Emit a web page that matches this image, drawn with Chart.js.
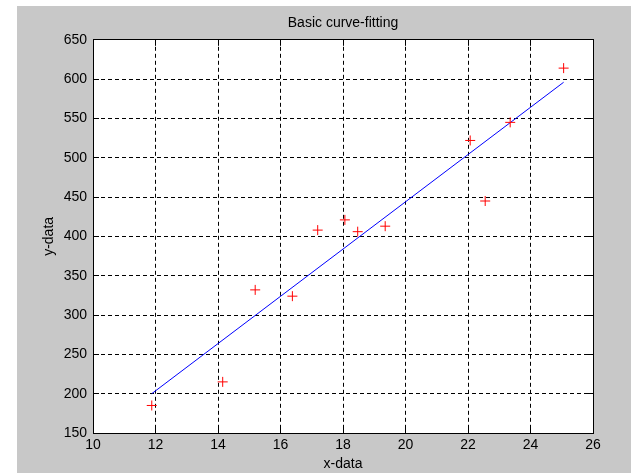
<!DOCTYPE html>
<html>
<head>
<meta charset="utf-8">
<script src="https://cdn.jsdelivr.net/npm/chart.js@4/dist/chart.umd.min.js"></script>
<style>
  html, body { margin: 0; padding: 0; background: #fff; }
  #frame { position: absolute; left: 17px; top: 6px; width: 614px; height: 467px; background: #c8c8c8; }
</style>
</head>
<body>
<div id="frame"><canvas id="fitChart"></canvas></div>
<script>
// measured points (red crosses)
var xData = [11.88, 14.15, 15.19, 16.38, 17.19, 18.06, 18.47, 19.35, 22.07, 22.55, 23.35, 25.06];
var yData = [185, 215, 332, 324, 408, 421, 406, 413, 522, 445, 545, 614];

// fitted line end points
var fitX = [11.88, 25.06];
var fitY = [200, 596];

var xTicks = [10, 12, 14, 16, 18, 20, 22, 24, 26];
var yTicks = [150, 200, 250, 300, 350, 400, 450, 500, 550, 600, 650];

function toPoints(xs, ys) {
    return xs.map(function (x, i) { return { x: x, y: ys[i] }; });
}

var font = { family: 'Liberation Sans, Arial, Helvetica, sans-serif', size: 14 };

Chart.defaults.font.family = font.family;
Chart.defaults.font.size = font.size;
Chart.defaults.color = '#000';

var fitChart = new Chart(document.getElementById('fitChart').getContext('2d'), {
    type: 'scatter',
    data: {
        datasets: [{
            label: 'data',
            data: toPoints(xData, yData),
            pointStyle: 'cross',
            pointRadius: 5,
            pointBorderWidth: 1,
            borderColor: '#ff0000',
            backgroundColor: '#ff0000',
            showLine: false
        }, {
            label: 'fit',
            data: toPoints(fitX, fitY),
            showLine: true,
            borderColor: '#0000ff',
            borderWidth: 1,
            pointRadius: 0,
            fill: false
        }]
    },
    options: {
        responsive: true,
        maintainAspectRatio: false,
        animation: false,
        layout: { padding: { left: 0, top: 0, right: 38, bottom: 0 } },
        plugins: {
            legend: { display: false },
            tooltip: { enabled: false },
            title: {
                display: true,
                text: 'Basic curve-fitting',
                fullSize: false,
                color: '#000',
                font: { size: 14, weight: 'normal' },
                padding: { top: 9, bottom: 8 }
            }
        },
        scales: {
            x: {
                type: 'linear',
                position: 'bottom',
                min: 10,
                max: 26,
                afterBuildTicks: function (scale) {
                    scale.ticks = xTicks.map(function (v) { return { value: v }; });
                },
                afterFit: function (scale) { scale.height = 40; },
                ticks: { padding: 10, color: '#000' },
                grid: {
                    color: '#000',
                    lineWidth: 1,
                    drawTicks: true,
                    tickLength: -6,
                    tickColor: '#000'
                },
                border: { display: true, color: '#000', width: 1, dash: [4, 3] },
                title: { display: true, text: 'x-data', color: '#000', padding: { top: 0, bottom: 0 } }
            },
            y: {
                type: 'linear',
                position: 'left',
                min: 150,
                max: 650,
                afterBuildTicks: function (scale) {
                    scale.ticks = yTicks.map(function (v) { return { value: v }; });
                },
                afterFit: function (scale) { scale.width = 76; },
                ticks: { padding: 12, color: '#000' },
                grid: {
                    color: '#000',
                    lineWidth: 1,
                    drawTicks: true,
                    tickLength: -6,
                    tickColor: '#000'
                },
                border: { display: true, color: '#000', width: 1, dash: [4, 3] },
                title: { display: true, text: 'y-data', color: '#000', padding: { top: 24, bottom: 0 } }
            },
            x2: {
                type: 'linear',
                position: 'top',
                min: 10,
                max: 26,
                afterBuildTicks: function (scale) {
                    scale.ticks = xTicks.map(function (v) { return { value: v }; });
                },
                afterFit: function (scale) { scale.height = 0; },
                ticks: { display: false },
                grid: { drawOnChartArea: false, drawTicks: true, tickLength: -6, tickColor: '#000' },
                border: { display: true, color: '#000', width: 1 }
            },
            y2: {
                type: 'linear',
                position: 'right',
                min: 150,
                max: 650,
                afterBuildTicks: function (scale) {
                    scale.ticks = yTicks.map(function (v) { return { value: v }; });
                },
                afterFit: function (scale) { scale.width = 0; },
                ticks: { display: false },
                grid: { drawOnChartArea: false, drawTicks: true, tickLength: -6, tickColor: '#000' },
                border: { display: true, color: '#000', width: 1 }
            }
        }
    },
    plugins: [{
        id: 'plotBackground',
        beforeDraw: function (chart) {
            var a = chart.chartArea;
            var ctx = chart.ctx;
            ctx.save();
            ctx.fillStyle = '#ffffff';
            ctx.fillRect(a.left, a.top, a.right - a.left, a.bottom - a.top);
            ctx.restore();
        }
    }]
});
</script>
</body>
</html>
